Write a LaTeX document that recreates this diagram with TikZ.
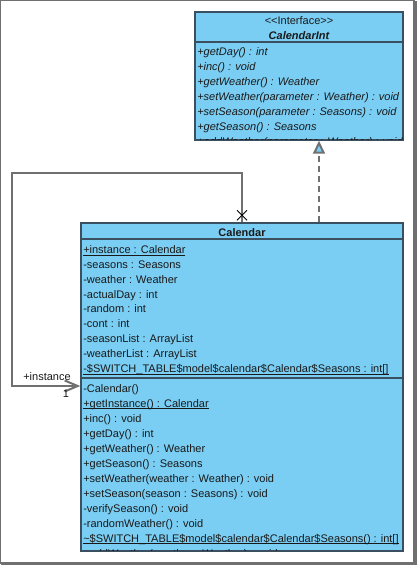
\documentclass[tikz,border=0pt]{standalone}
\usepackage{fontspec}
\setmainfont{Liberation Sans}[Ligatures=TeXOff]
\usepackage{tikz}
\usetikzlibrary{arrows.meta,calc}
\definecolor{umlblue}{RGB}{122,206,244}
\definecolor{umlline}{RGB}{58,80,96}
\definecolor{linkgray}{RGB}{112,112,112}
\newcommand\umlsize{\fontsize{8.25}{9}\selectfont}
\newcommand\staticrow[1]{\setbox0\hbox{#1}\rlap{\rule[-1.6pt]{\wd0}{0.7pt}}\box0}

\begin{document}
\begin{tikzpicture}[x=0.75pt,y=-0.75pt,
	classbox/.style={draw=umlline,fill=umlblue,line width=1.1pt,inner sep=0pt},
	row/.style={anchor=base west,inner sep=0pt,font=\umlsize,text=black!90},
	irow/.style={row,font=\umlsize\itshape},
	title/.style={anchor=base,inner sep=0pt,font=\umlsize\bfseries,text=black!90},
	link/.style={draw=linkgray,line width=1.5pt}]
			\useasboundingbox (0,0) rectangle (417,565);
			% frame
			\draw[linkgray,line width=0.75pt] (0.5,0.5) rectangle (414,563);
			\fill[linkgray] (413,1) rectangle (417,565);
			\fill[linkgray] (1,562) rectangle (417,565);
			
			% interface
			\node[classbox,minimum width=156pt,minimum height=96pt] (calint) at (299,76) {};
			\begin{scope}
				\clip (calint.north west) rectangle (calint.south east);
				\node[title,font=\umlsize] (stereo) at (299,24.5) {<<Interface>>};
				\node[title,font=\umlsize\bfseries\itshape] (intname) at (299,39) {CalendarInt};
				\node[irow] (i1) at (197,55.7) {+getDay() : int};
				\node[irow] (i2) at (197,70.7) {+inc() : void};
				\node[irow] (i3) at (197,85.7) {+getWeather() : Weather};
				\node[irow] (i4) at (197,100.7) {+setWeather(parameter : Weather) : void};
				\node[irow] (i5) at (197,115.7) {+setSeason(parameter : Seasons) : void};
				\node[irow] (i6) at (197,130.7) {+getSeason() : Seasons};
				\node[irow] (i7) at (197,145.7) {+addWeather(parameter : Weather) : void};
			\end{scope}
			\draw[umlline,line width=1.1pt] (calint.north west) rectangle (calint.south east);
			\draw[umlline,line width=1.1pt] (calint.west |- 0,42) -- (calint.east |- 0,42);
			
			% class
			\node[classbox,minimum width=241.5pt,minimum height=246pt] (calendar) at (242,387) {};
			\begin{scope}
				\clip (calendar.north west) rectangle (calendar.south east);
				\node[title] (calname) at (242,236) {Calendar};
				\node[row] (a1) at (83,253.3) {\staticrow{+instance : Calendar}};
				\node[row] (a2) at (83,268.2) {-seasons : Seasons};
				\node[row] (a3) at (83,283.1) {-weather : Weather};
				\node[row] (a4) at (83,298) {-actualDay : int};
				\node[row] (a5) at (83,312.9) {-random : int};
				\node[row] (a6) at (83,327.8) {-cont : int};
				\node[row] (a7) at (83,342.7) {-seasonList : ArrayList};
				\node[row] (a8) at (83,357.6) {-weatherList : ArrayList};
				\node[row] (a9) at (83,372.5) {\staticrow{-\$SWITCH\_TABLE\$model\$calendar\$Calendar\$Seasons : int[]}};
				\node[row] (m1) at (83,392) {-Calendar()};
				\node[row] (m2) at (83,407) {\staticrow{+getInstance() : Calendar}};
				\node[row] (m3) at (83,422) {+inc() : void};
				\node[row] (m4) at (83,437) {+getDay() : int};
				\node[row] (m5) at (83,452) {+getWeather() : Weather};
				\node[row] (m6) at (83,467) {+getSeason() : Seasons};
				\node[row] (m7) at (83,482) {+setWeather(weather : Weather) : void};
				\node[row] (m8) at (83,497) {+setSeason(season : Seasons) : void};
				\node[row] (m9) at (83,512) {-verifySeason() : void};
				\node[row] (m10) at (83,527) {-randomWeather() : void};
				\node[row] (m11) at (83,542) {\staticrow{\textasciitilde\$SWITCH\_TABLE\$model\$calendar\$Calendar\$Seasons() : int[]}};
				\node[row] (m12) at (83,557) {+addWeather(weather : Weather) : void};
			\end{scope}
			\draw[umlline,line width=1.1pt] (calendar.north west) rectangle (calendar.south east);
			\draw[umlline,line width=1.1pt] (calendar.west |- 0,239) -- (calendar.east |- 0,239);
			\draw[umlline,line width=1.1pt] (calendar.west |- 0,378) -- (calendar.east |- 0,378);
			
			% realization
			\coordinate (realfoot) at ($(calendar.north)+(77,0)$);
			\draw[link,dash pattern=on 4.5pt off 3pt,-{Triangle[length=9.75pt,width=9pt,fill=umlblue]}]
				(realfoot) -- (realfoot |- calint.south);
			
			% self association
			\coordinate (loopTR) at (242,173);
			\coordinate (loopTL) at (12,173);
			\coordinate (loopBL) at (12,386);
			\draw[link,-{Straight Barb[length=9.75pt,width=8.25pt]}]
				(calendar.north) -- (loopTR) -- (loopTL) -- (loopBL) -- (loopBL -| calendar.west);
			\draw[black,line width=0.75pt] ($(calendar.north)+(-5,-12)$) -- ($(calendar.north)+(5,-2)$);
			\draw[black,line width=0.75pt] ($(calendar.north)+(-5,-2)$) -- ($(calendar.north)+(5,-12)$);
			\node[title,font=\umlsize] (instlbl) at (47,380) {+instance};
			\node[title,font=\umlsize] (multlbl) at (66,397) {1};
\end{tikzpicture}
\end{document}
